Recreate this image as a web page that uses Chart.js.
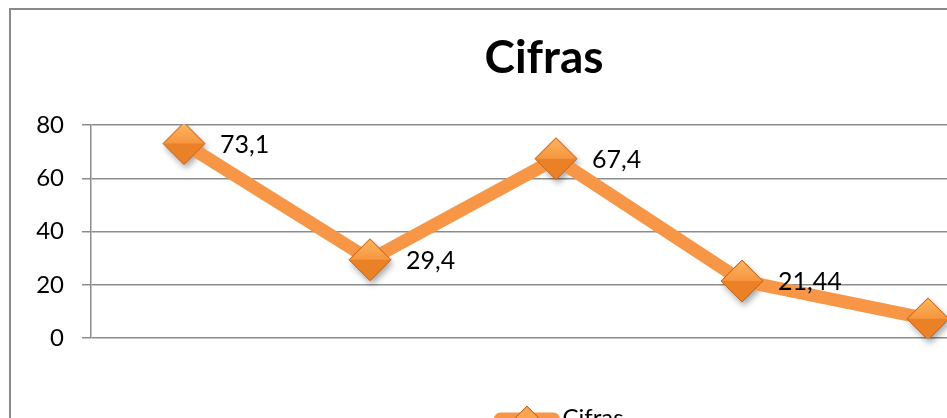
<!DOCTYPE html>
<html>
<head>
<meta charset="utf-8">
<script src="https://cdn.jsdelivr.net/npm/chart.js@4/dist/chart.umd.min.js"></script>
<style>
  html, body { margin: 0; padding: 0; background: #fff; overflow: hidden; }
  #wrap { position: absolute; left: 0; top: 0; width: 1088px; height: 440px; }
</style>
</head>
<body>
<div id="wrap"><canvas id="chart"></canvas></div>
<script>
const categories = ["1", "2", "3", "4", "5"];
const cifras = [73.1, 29.4, 67.4, 21.44, 7.2];
const yTicks = [0, 20, 40, 60, 80];

const ORANGE = "#F79646";
const FONT = "Lato, 'Open Sans', sans-serif";
const LEGEND_BOX = 86;
const LEGEND_FONT = 24;

const fmt = (v) => String(v).replace(".", ",");

// grey frame round the whole chart
const framePlugin = {
  id: "frame",
  beforeDraw(chart) {
    const { ctx, width, height } = chart;
    ctx.save();
    ctx.fillStyle = "#fff";
    ctx.fillRect(0, 0, width, height);
    ctx.strokeStyle = "#8a8a8a";
    ctx.lineWidth = 2;
    ctx.strokeRect(10, 9, width + 20, height + 20);
    ctx.restore();
  },
};

// soft shadow under the markers, light top half and value labels
const markerPlugin = {
  id: "markers",
  beforeDatasetsDraw(chart) {
    const { ctx } = chart;
    const meta = chart.getDatasetMeta(0);
    ctx.save();
    ctx.filter = "blur(3px)";
    ctx.fillStyle = "rgba(0,0,0,0.35)";
    meta.data.forEach((pt) => {
      const r = pt.options.radius;
      ctx.beginPath();
      ctx.moveTo(pt.x - r + 2, pt.y + 4);
      ctx.lineTo(pt.x + 2, pt.y - r + 4);
      ctx.lineTo(pt.x + r + 2, pt.y + 4);
      ctx.lineTo(pt.x + 2, pt.y + r + 4);
      ctx.closePath();
      ctx.fill();
    });
    ctx.restore();
  },
  afterDatasetsDraw(chart) {
    const { ctx } = chart;
    const meta = chart.getDatasetMeta(0);
    ctx.save();
    meta.data.forEach((pt, i) => {
      const r = pt.options.radius - 1;
      const g = ctx.createLinearGradient(0, pt.y - r, 0, pt.y);
      g.addColorStop(0, "#FDB45E");
      g.addColorStop(1, "#F7953F");
      ctx.fillStyle = g;
      ctx.beginPath();
      ctx.moveTo(pt.x - r, pt.y);
      ctx.lineTo(pt.x, pt.y - r);
      ctx.lineTo(pt.x + r, pt.y);
      ctx.closePath();
      ctx.fill();

      ctx.fillStyle = "#000";
      ctx.font = "25px " + FONT;
      ctx.textAlign = "left";
      ctx.textBaseline = "middle";
      ctx.fillText(fmt(cifras[i]), pt.x + 36, pt.y + 1);
    });
    ctx.restore();
  },
  afterDraw(chart) {
    const hb = chart.legend.legendHitBoxes[0];
    if (!hb) return;
    const { ctx } = chart;
    const textX = hb.left + LEGEND_BOX + LEGEND_FONT / 2;
    const y = hb.top + hb.height / 2 + 1;
    const x0 = textX - 68, x1 = textX - 3;
    ctx.save();
    ctx.strokeStyle = ORANGE;
    ctx.lineWidth = 13;
    ctx.lineCap = "round";
    ctx.beginPath();
    ctx.moveTo(x0 + 6, y);
    ctx.lineTo(x1 - 6, y);
    ctx.stroke();
    const cx = (x0 + x1) / 2, r = 13;
    ctx.fillStyle = "#EB8127";
    ctx.strokeStyle = "#C0651F";
    ctx.lineWidth = 1;
    ctx.beginPath();
    ctx.moveTo(cx - r, y);
    ctx.lineTo(cx, y - r);
    ctx.lineTo(cx + r, y);
    ctx.lineTo(cx, y + r);
    ctx.closePath();
    ctx.fill();
    ctx.stroke();
    ctx.fillStyle = "#FBA550";
    ctx.beginPath();
    ctx.moveTo(cx - r + 1, y);
    ctx.lineTo(cx, y - r + 1);
    ctx.lineTo(cx + r - 1, y);
    ctx.closePath();
    ctx.fill();
    ctx.restore();
  },
};

new Chart(document.getElementById("chart"), {
  type: "line",
  data: {
    labels: categories,
    datasets: [
      {
        label: "Cifras",
        data: cifras,
        borderColor: ORANGE,
        borderWidth: 13,
        tension: 0,
        pointStyle: "rectRot",
        pointRadius: 21,
        pointHoverRadius: 21,
        pointBackgroundColor: "#EB8127",
        pointBorderColor: "#C0651F",
        pointBorderWidth: 1,
      },
    ],
  },
  options: {
    responsive: true,
    maintainAspectRatio: false,
    animation: false,
    layout: { padding: 0 },
    plugins: {
      tooltip: { enabled: false },
      title: {
        display: true,
        text: "Cifras",
        color: "#000",
        font: { family: FONT, size: 46, weight: "bold", lineHeight: 1.2 },
        padding: { top: 31, bottom: 39 },
      },
      legend: {
        position: "bottom",
        labels: {
          color: "#000",
          font: { family: FONT, size: LEGEND_FONT },
          boxWidth: LEGEND_BOX,
          padding: 10,
          generateLabels: (chart) =>
            Chart.defaults.plugins.legend.labels.generateLabels(chart).map((l) => ({
              ...l,
              fillStyle: "rgba(0,0,0,0)",
              strokeStyle: "rgba(0,0,0,0)",
              lineWidth: 0,
            })),
        },
      },
    },
    scales: {
      x: {
        offset: true,
        grid: { display: false },
        border: { display: false },
        ticks: { display: false },
        afterFit: (s) => { s.height = 58; },
      },
      y: {
        min: 0,
        max: 80,
        afterBuildTicks: (s) => { s.ticks = yTicks.map((v) => ({ value: v })); },
        ticks: {
          color: "#000",
          font: { family: FONT, size: 24 },
          padding: 18,
        },
        grid: { color: "#8c8c8c", lineWidth: 1.5, tickLength: 9 },
        border: { color: "#8c8c8c", width: 1.5 },
        afterFit: (s) => { s.width = 91; },
      },
      y2: {
        position: "right",
        grid: { display: false },
        border: { display: false },
        ticks: { display: false },
        afterFit: (s) => { s.width = 67; },
      },
    },
  },
  plugins: [framePlugin, markerPlugin],
});
</script>
</body>
</html>
